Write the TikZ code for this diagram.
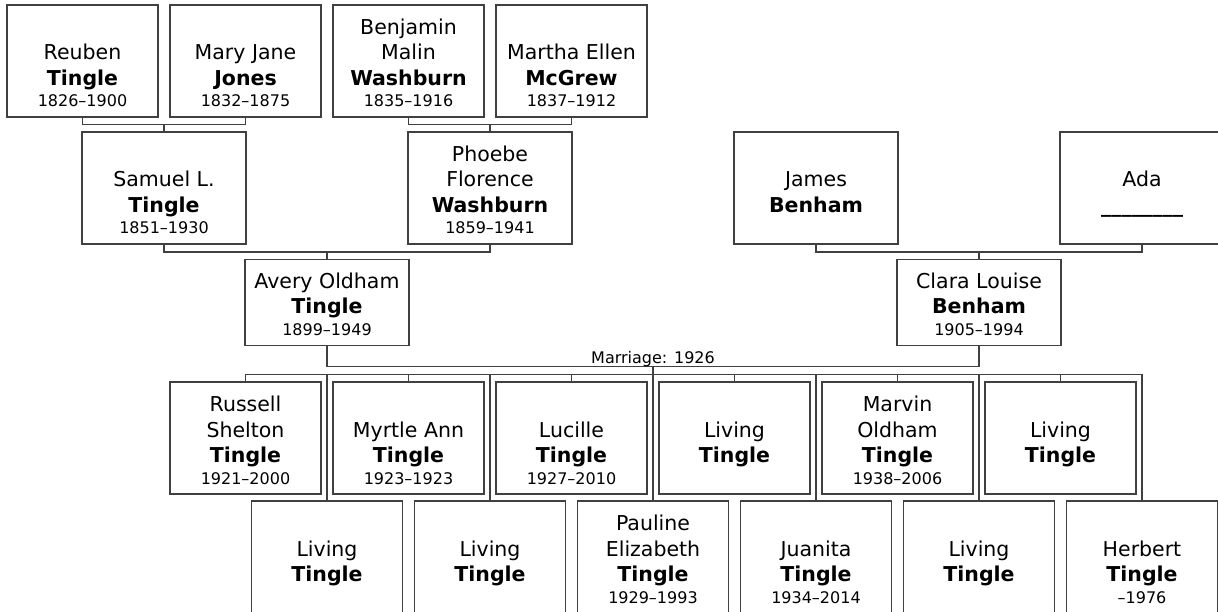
\documentclass[tikz,border=0pt]{standalone}
\usepackage{fontspec}
\setmainfont{DejaVu Sans}
\usepackage{xcolor}
\usetikzlibrary{positioning,calc}

\definecolor{linegray}{HTML}{404040}
\newcommand{\namefont}{\fontsize{20.5}{25.5}\selectfont}
\newcommand{\datefont}{\fontsize{16}{19}\selectfont}
% card text sits on the bottom of the card: names, surname, dates
% (box height = #1 + the 10pt depth of the last line)
\newcommand{\who}[4][102pt]{\parbox[c][#1][b]{148pt}{\centering\namefont
  #2\\\textbf{#3}\\[-4pt]{\datefont #4}\rule[-10pt]{0pt}{12pt}}}

\begin{document}
\begin{tikzpicture}[
    x=1pt, y=-1pt,
    card/.style={draw=linegray,line width=1.2pt,fill=white,inner sep=0pt,
                 minimum width=151pt},
    widecard/.style={card,minimum width=164pt},
    link/.style={draw=linegray,line width=1.2pt},
  ]
  \useasboundingbox (0,0) rectangle (1218,612);
  \clip (0,0) rectangle (1218,612);

  % --- great-grandparents (top row) ---
  \node[card] (reuben)   at (82.5,61)  {\who{Reuben}{Tingle}{1826–1900}};
  \node[card] (maryjane) at (245.5,61) {\who{Mary Jane}{Jones}{1832–1875}};
  \node[card] (benjamin) at (408.5,61) {\who{Benjamin\\Malin}{Washburn}{1835–1916}};
  \node[card] (martha)   at (571.5,61) {\who{Martha Ellen}{McGrew}{1837–1912}};

  % --- grandparents ---
  \node[widecard] (samuel) at (164,188)  {\who{Samuel L.}{Tingle}{1851–1930}};
  \node[widecard] (phoebe) at (490,188)  {\who{Phoebe\\Florence}{Washburn}{1859–1941}};
  \node[widecard] (james)  at (816,188)  {\who{James}{Benham}{}};
  \node[widecard] (ada)    at (1142,188) {\who{Ada}{\_\_\_\_\_\_\_\_}{}};

  % --- parents ---
  \node[widecard] (avery) at (327,302.5) {\who[76pt]{Avery Oldham}{Tingle}{1899–1949}};
  \node[widecard] (clara) at (979,302.5) {\who[76pt]{Clara Louise}{Benham}{1905–1994}};

  % --- children, upper row ---
  \node[card] (russell) at (245.5,438)  {\who{Russell\\Shelton}{Tingle}{1921–2000}};
  \node[card] (myrtle)  at (408.5,438)  {\who{Myrtle Ann}{Tingle}{1923–1923}};
  \node[card] (lucille) at (571.5,438)  {\who{Lucille}{Tingle}{1927–2010}};
  \node[card] (livingA) at (734.5,438)  {\who{Living}{Tingle}{}};
  \node[card] (marvin)  at (897.5,438)  {\who{Marvin\\Oldham}{Tingle}{1938–2006}};
  \node[card] (livingB) at (1060.5,438) {\who{Living}{Tingle}{}};

  % --- children, lower row ---
  \node[card] (livingC) at (327,557)  {\who{Living}{Tingle}{}};
  \node[card] (livingD) at (490,557)  {\who{Living}{Tingle}{}};
  \node[card] (pauline) at (653,557)  {\who{Pauline\\Elizabeth}{Tingle}{1929–1993}};
  \node[card] (juanita) at (816,557)  {\who{Juanita}{Tingle}{1934–2014}};
  \node[card] (livingE) at (979,557)  {\who{Living}{Tingle}{}};
  \node[card] (herbert) at (1142,557) {\who{Herbert}{Tingle}{–1976}};

  % --- couple brackets ---
  \coordinate (u1) at ($(reuben.south)!.5!(maryjane.south)+(0,7)$);
  \coordinate (u2) at ($(benjamin.south)!.5!(martha.south)+(0,7)$);
  \coordinate (u3) at ($(samuel.south)!.5!(phoebe.south)+(0,7.5)$);
  \coordinate (u4) at ($(james.south)!.5!(ada.south)+(0,7.5)$);
  \draw[link] (reuben.south) |- (u1) -| (maryjane.south);
  \draw[link] (benjamin.south) |- (u2) -| (martha.south);
  \draw[link] (samuel.south) |- (u3) -| (phoebe.south);
  \draw[link] (james.south) |- (u4) -| (ada.south);
  \draw[link] (u1) -- (samuel.north);
  \draw[link] (u2) -- (phoebe.north);
  \draw[link] (u3) -- (avery.north);
  \draw[link] (u4) -- (clara.north);

  % --- marriage and the children's bar ---
  \coordinate (wed) at ($(avery.south)!.5!(clara.south)+(0,20.5)$);
  \coordinate (kids) at ($(wed)+(0,8)$);
  \draw[link] (avery.south) |- (wed) -| (clara.south);
  \node[inner sep=0pt,font=\datefont,above=0pt of wed] (wedlabel) {Marriage: 1926};
  \draw[link] (wed) -- (kids);
  \draw[link] (russell.north) |- (kids) -| (herbert.north);
  \foreach \c in {myrtle,lucille,livingA,marvin,livingB,
                  livingC,livingD,pauline,juanita,livingE} {
    \draw[link] (\c.north) -- (\c.north |- kids);
  }

\end{tikzpicture}
\end{document}
